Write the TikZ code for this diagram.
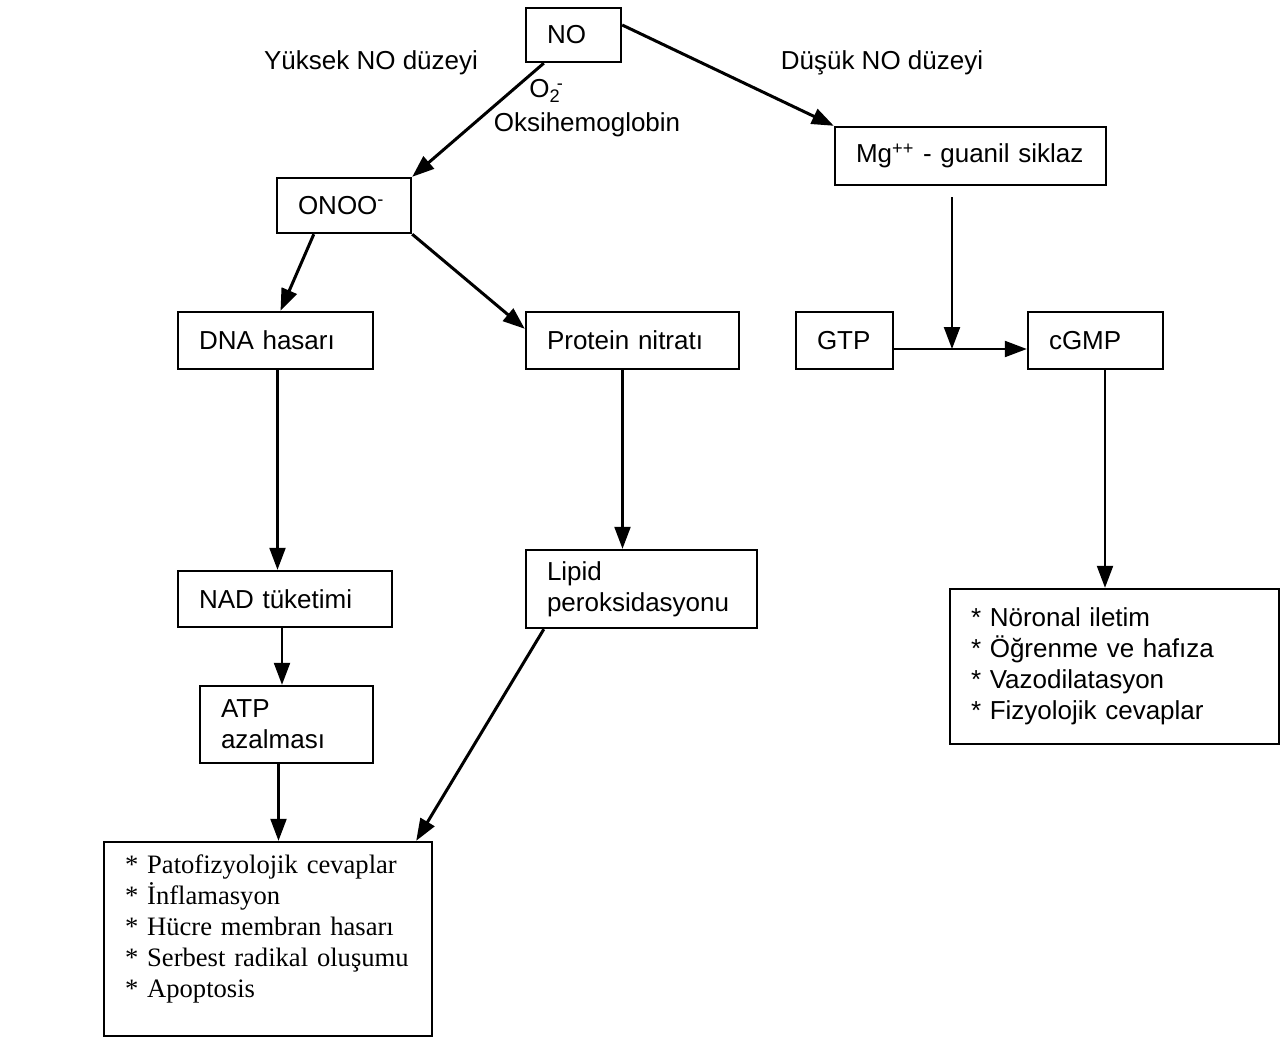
\documentclass[tikz,border=0pt]{standalone}
\usepackage{fontspec}
\setmainfont{Liberation Serif}
\setsansfont{Liberation Sans}
\usetikzlibrary{arrows.meta}

\begin{document}
\begin{tikzpicture}[x=0.5pt, y=-0.5pt,
    box/.style={draw, line width=1.2pt, inner xsep=10.5pt, inner ysep=0pt, align=left,
        font=\sffamily\fontsize{13}{15.5}\selectfont},
    lbl/.style={font=\sffamily\fontsize{13}{15.5}\selectfont, inner sep=0pt},
    arr/.style={-{Triangle[length=11pt,width=8pt]}, line width=1.1pt},
    diag/.style={arr, line width=1.5pt}]
    \useasboundingbox (0,0) rectangle (1280,1039);

    % top
    \node[box, text width=26.5pt, minimum height=27pt] (no) at (573.5,35) {NO};
    \node[lbl] (high) at (371,63) {Yüksek NO düzeyi};
    \node[lbl] (low) at (882,63) {Düşük NO düzeyi};
    \node[lbl, anchor=west] (otwo) at (529,91) {O\textsubscript{2}\kern-2pt\textsuperscript{-}};
    \node[lbl] (oxy) at (587,125) {Oksihemoglobin};

    % high NO side
    \node[box, text width=46pt, minimum height=27.5pt] (onoo) at (344,205.5) {ONOO\textsuperscript{-}};
    \node[box, text width=76.5pt, minimum height=28.5pt] (dna) at (275.5,340.5) {DNA hasarı};
    \node[box, text width=85.5pt, minimum height=28.5pt] (protein) at (632.5,340.5) {Protein nitratı};
    \node[box, text width=86pt, minimum height=28pt] (nad) at (285,599) {NAD tüketimi};
    \node[box, text width=94.5pt, minimum height=39pt] (lipid) at (641.5,589) {Lipid\\peroksidasyonu};
    \node[box, text width=65.5pt, minimum height=38.5pt] (atp) at (286.5,724.5) {ATP\\azalması};
    \node[box, text width=143pt, minimum height=97pt,
        font=\rmfamily\fontsize{13.3}{15.5}\selectfont] (patho) at (268,939)
        {{*} Patofizyolojik cevaplar\\{*} İnflamasyon\\{*} Hücre membran hasarı\\
         {*} Serbest radikal oluşumu\\{*} Apoptosis\\[-2.5pt]\mbox{}};

    % low NO side
    \node[box, text width=114.5pt, minimum height=29pt] (mg) at (970.5,156) {Mg\textsuperscript{++} - guanil siklaz};
    \node[box, text width=27.5pt, minimum height=28.5pt] (gtp) at (844.5,340.5) {GTP};
    \node[box, text width=46.5pt, minimum height=28.5pt] (cgmp) at (1095.5,340.5) {cGMP};
    \node[box, text width=143.5pt, minimum height=77.5pt] (physio) at (1114.5,666.5)
        {{*} Nöronal iletim\\{*} Öğrenme ve hafıza\\{*} Vazodilatasyon\\{*} Fizyolojik cevaplar};
    \coordinate (jn) at (952,349);

    % arrows
    \draw[diag] ([xshift=9.5pt]no.south west) -- (onoo.north east);
    \draw[diag] ([yshift=5pt]no.east) -- (mg.north west);
    \draw[diag] ([xshift=19pt]onoo.south west) -- ([xshift=2.5pt]dna.north);
    \draw[diag] (onoo.south east) -- ([yshift=-9pt]protein.north west);
    \draw[arr] ([xshift=1pt]dna.south) -- ([xshift=1pt]dna.south |- nad.north);
    \draw[arr] ([xshift=-5pt]protein.south) -- ([xshift=-5pt]protein.south |- lipid.north);
    \draw[arr] ([xshift=-1.5pt]nad.south) -- ([xshift=-1.5pt]nad.south |- atp.north);
    \draw[arr] ([xshift=-4pt]atp.south) -- ([xshift=-4pt]atp.south |- patho.north);
    \draw[diag] ([xshift=9.5pt]lipid.south west) -- ([xshift=-8.5pt]patho.north east);
    \draw[arr] (mg.south -| jn) ++(0,11) -- (jn);
    \draw[arr] (gtp.east |- jn) -- (cgmp.west |- jn);
    \draw[arr] ([xshift=4.75pt]cgmp.south) -- ([xshift=4.75pt]cgmp.south |- physio.north);
\end{tikzpicture}
\end{document}
